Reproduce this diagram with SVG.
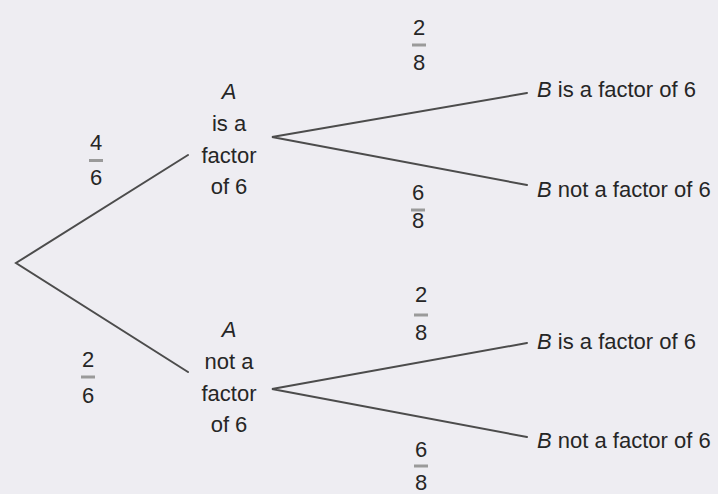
<svg xmlns="http://www.w3.org/2000/svg" width="718" height="494" viewBox="0 0 718 494">
<style>
text{font-family:"Liberation Sans",Arial,sans-serif;font-size:22px;fill:#262626}
.c{text-anchor:middle}
.i{font-style:italic}
.br{stroke:#4c4c4c;stroke-width:2;fill:none;stroke-linecap:round}
.bar{stroke:#9a9a9a;stroke-width:3}
</style>
<rect width="718" height="494" fill="#eeedf2"/>
<g id="connectors">
<path class="br" d="M188,155 L16,263 L188,372"/>
<path class="br" d="M527,93 L272,137 L527,185"/>
<path class="br" d="M527,343 L272,389 L527,437"/>
</g>
<g id="nodeA1" class="c">
<text x="229" y="99" class="i">A</text>
<text x="229" y="131">is a</text>
<text x="229" y="163">factor</text>
<text x="229" y="194">of 6</text>
</g>
<g id="nodeA2" class="c">
<text x="229" y="337" class="i">A</text>
<text x="229" y="369">not a</text>
<text x="229" y="401">factor</text>
<text x="229" y="432">of 6</text>
</g>
<g id="nodeB1"><text x="537" y="97"><tspan class="i">B</tspan> is a factor of 6</text></g>
<g id="nodeB2"><text x="537" y="197"><tspan class="i">B</tspan> not a factor of 6</text></g>
<g id="nodeB3"><text x="537" y="349"><tspan class="i">B</tspan> is a factor of 6</text></g>
<g id="nodeB4"><text x="537" y="448"><tspan class="i">B</tspan> not a factor of 6</text></g>
<g id="p1" class="c"><text x="96" y="150">4</text><line class="bar" x1="89" y1="160.5" x2="103" y2="160.5"/><text x="96" y="185">6</text></g>
<g id="p2" class="c"><text x="88" y="367">2</text><line class="bar" x1="81" y1="377" x2="95" y2="377"/><text x="88" y="403">6</text></g>
<g id="p3" class="c"><text x="419" y="35">2</text><line class="bar" x1="412" y1="45" x2="426" y2="45"/><text x="419" y="70">8</text></g>
<g id="p4" class="c"><text x="418" y="200">6</text><line class="bar" x1="411" y1="210" x2="425" y2="210"/><text x="418" y="228">8</text></g>
<g id="p5" class="c"><text x="421" y="302">2</text><line class="bar" x1="414" y1="315" x2="428" y2="315"/><text x="421" y="340">8</text></g>
<g id="p6" class="c"><text x="421" y="457">6</text><line class="bar" x1="414" y1="466" x2="428" y2="466"/><text x="421" y="490">8</text></g>
</svg>
